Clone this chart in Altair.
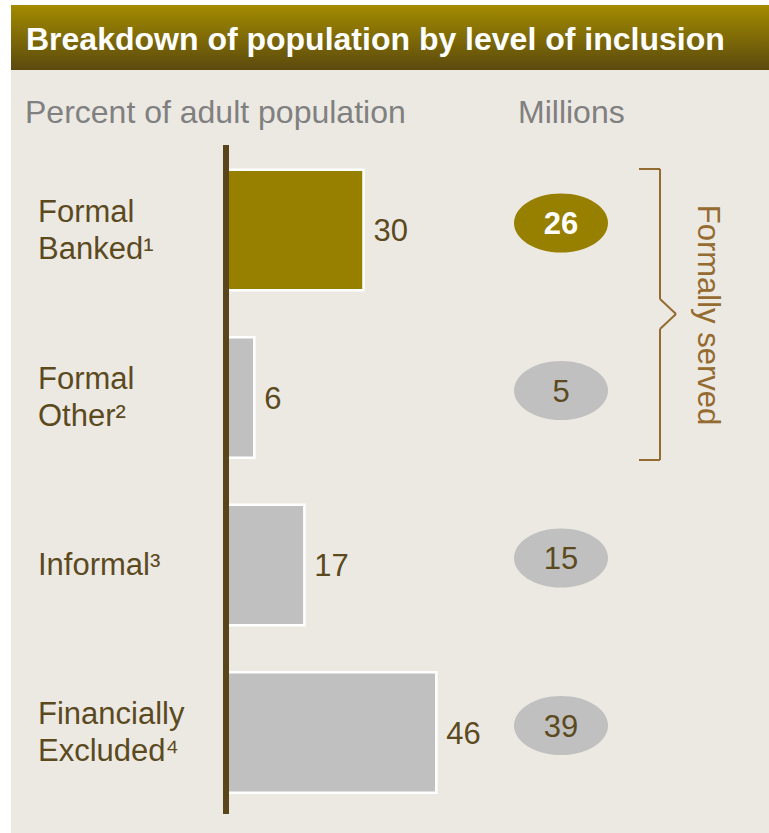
import altair as alt
import pandas as pd

# ---- data ----
categories = ["Formal Banked", "Formal Other", "Informal", "Financially Excluded"]
labels = ["Formal\nBanked¹", "Formal\nOther²", "Informal³", "Financially\nExcluded⁴"]
percent = [30, 6, 17, 46]
millions = [26, 5, 15, 39]

title_text = "Breakdown of population by level of inclusion"
left_header = "Percent of adult population"
right_header = "Millions"
bracket_text = "Formally served"

df = pd.DataFrame({"category": categories, "label": labels,
                   "percent": percent, "millions": millions})
one = pd.DataFrame({"k": [0]})

FONT = "Liberation Sans, Arial, sans-serif"
GOLD = "#977F00"
GREY = "#C0C0C0"
BROWN = "#5C4A1F"
AXIS = "#5A4419"
BEIGE = "#ECE9E3"
BRACKET = "#946B30"
HEADER_GREY = "#808080"
FS = 31
LH = 37

y_scale = alt.Scale(domain=categories, range=[146.25, 816.25],
                    paddingInner=0.28, paddingOuter=0.14)
x_scale = alt.Scale(domain=[0, 100], range=[227, 682])
Y = alt.Y("category:N", scale=y_scale, axis=None, sort=categories)
X = alt.X("percent:Q", scale=x_scale, axis=None)

layers = []

# panel background
layers.append(alt.Chart(one).mark_rect(color=BEIGE).encode(
    x=alt.value(11), x2=alt.value(769), y=alt.value(70), y2=alt.value(833)))

# title bar with gradient
grad = alt.LinearGradient(gradient="linear",
                          stops=[alt.GradientStop(color="#A38B00", offset=0),
                                 alt.GradientStop(color="#5B4A0E", offset=1)],
                          x1=0, x2=0, y1=0, y2=1)
layers.append(alt.Chart(one).mark_rect(color=grad).encode(
    x=alt.value(11), x2=alt.value(769), y=alt.value(5), y2=alt.value(70)))
layers.append(alt.Chart(one).mark_text(
    text=title_text, font=FONT, fontSize=32, fontWeight="bold", color="white",
    align="left", baseline="middle").encode(x=alt.value(26), y=alt.value(40)))

# headers
layers.append(alt.Chart(one).mark_text(
    text=left_header, font=FONT, fontSize=32, color=HEADER_GREY,
    align="left", baseline="middle").encode(x=alt.value(25), y=alt.value(113)))
layers.append(alt.Chart(one).mark_text(
    text=right_header, font=FONT, fontSize=32, color=HEADER_GREY,
    align="left", baseline="middle").encode(x=alt.value(518), y=alt.value(113)))

# bars
layers.append(alt.Chart(df).mark_bar(stroke="white", strokeWidth=2.5).encode(
    y=Y, x=X, x2=alt.datum(0),
    color=alt.condition(alt.datum.category == categories[0],
                        alt.value(GOLD), alt.value(GREY))))

# axis line
layers.append(alt.Chart(one).mark_rule(color=AXIS, strokeWidth=6).encode(
    x=alt.value(226), y=alt.value(145), y2=alt.value(814)))

# value labels
layers.append(alt.Chart(df).mark_text(
    font=FONT, fontSize=FS, color=BROWN, align="left", baseline="middle", dx=10, dy=2
).encode(y=Y, x=X, text=alt.Text("percent:Q")))

# category labels (two-line labels shifted up by half a line)
is_multi = "indexof(datum.label, '\\n') >= 0"
layers.append(alt.Chart(df).transform_filter(is_multi).mark_text(
    font=FONT, fontSize=FS, color=BROWN, align="left", baseline="middle",
    lineBreak="\n", lineHeight=LH, dy=-LH / 2 + 1
).encode(y=Y, x=alt.value(38), text="label:N"))
layers.append(alt.Chart(df).transform_filter("!(" + is_multi + ")").mark_text(
    font=FONT, fontSize=FS, color=BROWN, align="left", baseline="middle", dy=1
).encode(y=Y, x=alt.value(38), text="label:N"))

# ellipses
ELLIPSE = "M -1 0 A 1 0.63 0 1 1 1 0 A 1 0.63 0 1 1 -1 0 Z"
layers.append(alt.Chart(df).mark_point(
    shape=ELLIPSE, filled=True, size=94 * 94, opacity=1, strokeWidth=0, yOffset=-7
).encode(y=Y, x=alt.value(561),
         color=alt.condition(alt.datum.category == categories[0],
                             alt.value(GOLD), alt.value(GREY))))
layers.append(alt.Chart(df).transform_filter(alt.datum.category == categories[0]).mark_text(
    font=FONT, fontSize=FS, fontWeight="bold", color="white", align="center",
    baseline="middle", yOffset=-5
).encode(y=Y, x=alt.value(561), text=alt.Text("millions:Q")))
layers.append(alt.Chart(df).transform_filter(alt.datum.category != categories[0]).mark_text(
    font=FONT, fontSize=FS, color=BROWN, align="center",
    baseline="middle", yOffset=-5
).encode(y=Y, x=alt.value(561), text=alt.Text("millions:Q")))

# bracket
def seg(x1, y1, x2, y2):
    return alt.Chart(one).mark_rule(color=BRACKET, strokeWidth=2).encode(
        x=alt.value(x1), y=alt.value(y1), x2=alt.value(x2), y2=alt.value(y2))

layers += [seg(639, 169, 660, 169), seg(660, 169, 660, 299), seg(660, 299, 676, 314),
           seg(676, 314, 660, 329), seg(660, 329, 660, 460), seg(639, 460, 660, 460)]
layers.append(alt.Chart(one).mark_text(
    text=bracket_text, font=FONT, fontSize=FS, color=BRACKET, angle=90,
    align="center", baseline="middle").encode(x=alt.value(707), y=alt.value(315)))

chart = alt.layer(*layers).properties(
    width=769, height=833, padding=0,
    autosize=alt.AutoSizeParams(type="none"), background="white"
).configure_view(stroke=None)

chart.save("out.html", embed_options={"renderer": "svg", "actions": False})
